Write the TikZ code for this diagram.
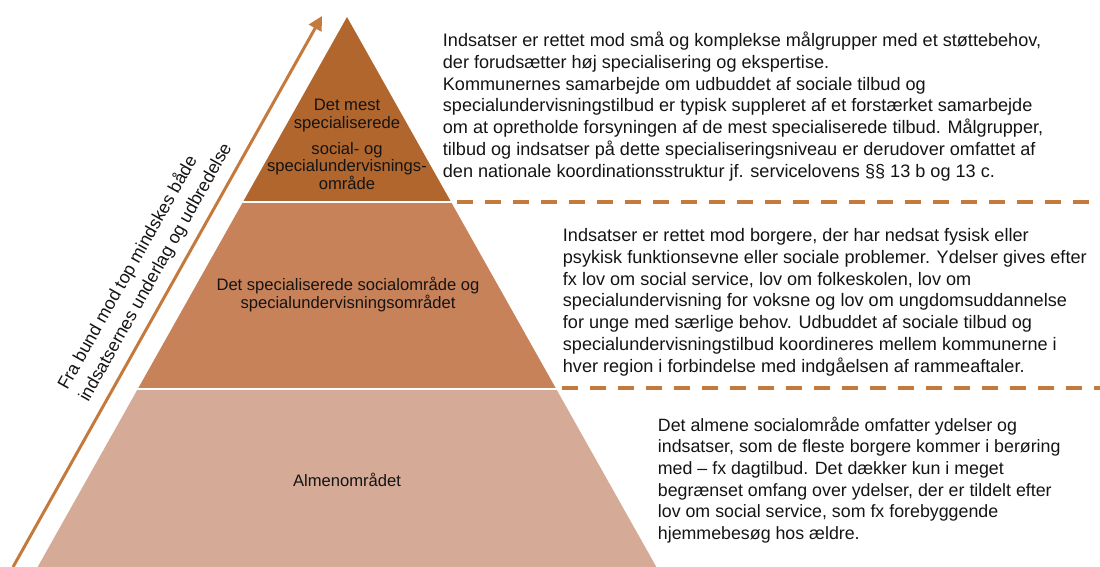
\documentclass[tikz,border=0pt]{standalone}
\usepackage{fontspec}
\setmainfont{Liberation Sans}
\usetikzlibrary{arrows.meta}
\definecolor{tierA}{HTML}{B0662D}
\definecolor{tierB}{HTML}{C8825A}
\definecolor{tierC}{HTML}{D5AA96}
\definecolor{accent}{HTML}{C57A3D}
\definecolor{txt}{HTML}{141414}
\begin{document}
\begin{tikzpicture}[x=1pt,y=-1pt,
  tierlabel/.style={align=center, inner sep=0pt, anchor=base, text=txt,
    font=\fontsize{16.6}{17.5}\selectfont},
  para/.style={align=left, inner sep=0pt, anchor=base west, text=txt,
    font=\fontsize{18.1}{21.7}\selectfont},
  divider/.style={draw=accent, line width=4pt, dash pattern=on 16pt off 12pt},
  sep/.style={draw=white, line width=2pt},
]
\useasboundingbox (0,0) rectangle (1100,567);
% pyramid tiers
\fill[tierC] (137.75,389) -- (556.25,389) -- (663.7,580) -- (30.3,580) -- cycle;
\fill[tierB] (243.5,201) -- (450.5,201) -- (556.25,389) -- (137.75,389) -- cycle;
\fill[tierA] (347,17) -- (450.5,201) -- (243.5,201) -- cycle;
\draw[sep] (242,201.5) -- (452,201.5);
\draw[sep] (136,389) -- (558,389);
% dashed dividers
\coordinate (d1s) at (457,202);
\coordinate (d1e) at (1100,202);
\coordinate (d2s) at (562,388);
\coordinate (d2e) at (1100,388);
\draw[divider] (d1s) -- (d1e);
\draw[divider] (d2s) -- (d2e);
% arrow
\coordinate (arrS) at (13,567);
\coordinate (arrE) at (322,16);
\draw[accent, line width=3pt, -{Triangle[length=14pt,width=14pt]}] (arrS) -- (arrE);
\node[align=left, inner sep=0pt, rotate=60.63, text=txt,
  font=\fontsize{17.8}{24}\selectfont] (arrtext) at (145,266.5)
  {Fra bund mod top mindskes både\\indsatsernes underlag og udbredelse};
% tier labels (base = baseline of last line)
\node[tierlabel] (top) at (347,189)
  {Det mest\\specialiserede\\[8pt]social- og\\specialundervisnings-\\område};
\node[tierlabel] (mid) at (348,308)
  {Det specialiserede socialområde og\\specialundervisningsområdet};
\node[tierlabel] (bot) at (347,486.7) {Almenområdet};
% paragraphs (base = baseline of last line)
\node[para] (p1) at (442.7,177)
  {Indsatser er rettet mod små og komplekse målgrupper med et støttebehov,\\
   der forudsætter høj specialisering og ekspertise.\\
   Kommunernes samarbejde om udbuddet af sociale tilbud og\\
   specialundervisningstilbud er typisk suppleret af et forstærket samarbejde\\
   om at opretholde forsyningen af de mest specialiserede tilbud. Målgrupper,\\
   tilbud og indsatser på dette specialiseringsniveau er derudover omfattet af\\
   den nationale koordinationsstruktur jf. servicelovens §§ 13 b og 13 c.};
\node[para] (p2) at (562.7,372)
  {Indsatser er rettet mod borgere, der har nedsat fysisk eller\\
   psykisk funktionsevne eller sociale problemer. Ydelser gives efter\\
   fx lov om social service, lov om folkeskolen, lov om\\
   specialundervisning for voksne og lov om ungdomsuddannelse\\
   for unge med særlige behov. Udbuddet af sociale tilbud og\\
   specialundervisningstilbud koordineres mellem kommunerne i\\
   hver region i forbindelse med indgåelsen af rammeaftaler.};
\node[para, font=\fontsize{17.8}{21.7}\selectfont] (p3) at (657.7,539.5)
  {Det almene socialområde omfatter ydelser og\\
   indsatser, som de fleste borgere kommer i berøring\\
   med – fx dagtilbud. Det dækker kun i meget\\
   begrænset omfang over ydelser, der er tildelt efter\\
   lov om social service, som fx forebyggende\\
   hjemmebesøg hos ældre.};
\end{tikzpicture}
\end{document}
